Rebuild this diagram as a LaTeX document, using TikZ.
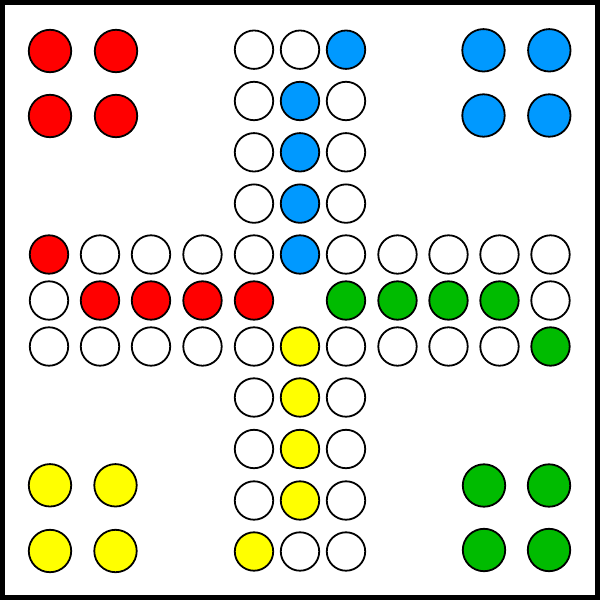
\documentclass[tikz,border=0pt]{standalone}
\definecolor{ludored}{RGB}{255,0,0}
\definecolor{ludoblue}{RGB}{0,153,255}
\definecolor{ludogreen}{RGB}{0,187,0}
\definecolor{ludoyellow}{RGB}{255,255,0}
\def\XS{{49,100,151,202.5,254,300,346,397.5,448.5,499.5,550.5}}
\def\YS{{49.7,101,152.3,203.6,254.5,300.5,346.5,397.5,449,500.5,551.5}}
\newcommand\ludocell[3]{%
  \pgfmathsetmacro\cx{\XS[#2]}%
  \pgfmathsetmacro\cy{\YS[#1]}%
  \node[track,fill=#3] (t-#1-#2) at (\cx,\cy) {};}
\begin{document}
\begin{tikzpicture}[x=0.01cm,y=-0.01cm,
  track/.style={circle,draw=black,line width=0.018cm,minimum size=0.384cm,inner sep=0pt},
  home/.style={circle,draw=black,line width=0.018cm,minimum size=0.424cm,inner sep=0pt}]
\useasboundingbox (0,0) rectangle (600,600);
\fill[black] (0,0) rectangle (600,600);
\fill[white] (5,5) rectangle (595,595);
% homes
\foreach \x/\y [count=\i] in {50/51,116/51,50/116,116/116}
  \node[home,fill=ludored] (hr\i) at (\x,\y) {};
\foreach \x/\y [count=\i] in {483.5/50.3,549.3/50.3,483.5/115.5,549.3/115.5}
  \node[home,fill=ludoblue] (hb\i) at (\x,\y) {};
\foreach \x/\y [count=\i] in {50/485.3,115.5/485.3,50/551,115.5/551}
  \node[home,fill=ludoyellow] (hy\i) at (\x,\y) {};
\foreach \x/\y [count=\i] in {484/485.5,549/485.5,484/550,549/550}
  \node[home,fill=ludogreen] (hg\i) at (\x,\y) {};
% top arm
\ludocell{0}{4}{white}\ludocell{0}{5}{white}\ludocell{0}{6}{ludoblue}
\foreach \r in {1,2,3}{\ludocell{\r}{4}{white}\ludocell{\r}{5}{ludoblue}\ludocell{\r}{6}{white}}
% row 4
\ludocell{4}{0}{ludored}
\foreach \c in {1,2,3,4}{\ludocell{4}{\c}{white}}
\ludocell{4}{5}{ludoblue}
\foreach \c in {6,7,8,9,10}{\ludocell{4}{\c}{white}}
% row 5
\ludocell{5}{0}{white}
\foreach \c in {1,2,3,4}{\ludocell{5}{\c}{ludored}}
\foreach \c in {6,7,8,9}{\ludocell{5}{\c}{ludogreen}}
\ludocell{5}{10}{white}
% row 6
\foreach \c in {0,1,2,3,4}{\ludocell{6}{\c}{white}}
\ludocell{6}{5}{ludoyellow}
\foreach \c in {6,7,8,9}{\ludocell{6}{\c}{white}}
\ludocell{6}{10}{ludogreen}
% bottom arm
\foreach \r in {7,8,9}{\ludocell{\r}{4}{white}\ludocell{\r}{5}{ludoyellow}\ludocell{\r}{6}{white}}
\ludocell{10}{4}{ludoyellow}\ludocell{10}{5}{white}\ludocell{10}{6}{white}
\end{tikzpicture}
\end{document}
